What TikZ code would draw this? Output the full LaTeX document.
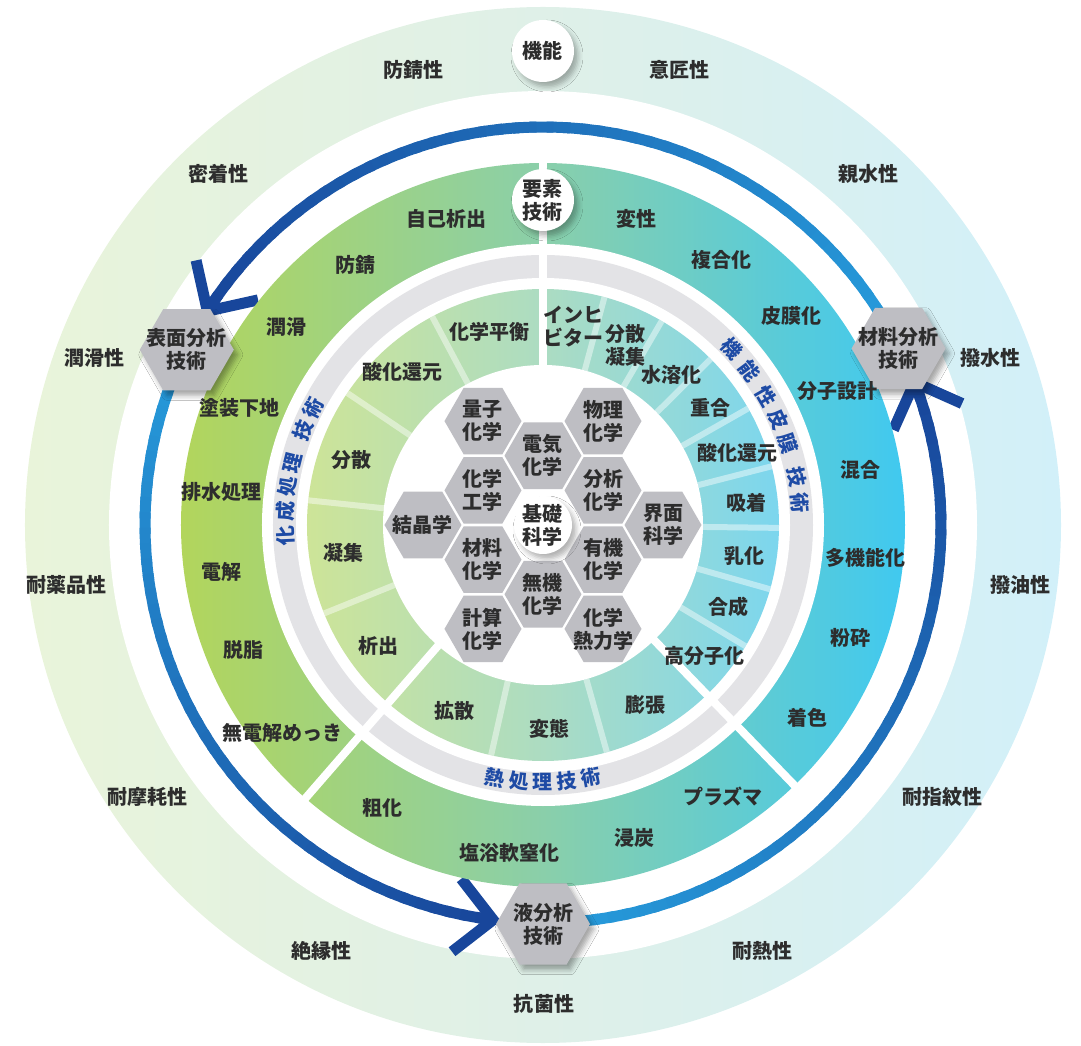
\documentclass[tikz,border=0pt]{standalone}
\usepackage{fontspec}
\setmainfont{Noto Sans CJK JP}
\usetikzlibrary{shapes.geometric,shadows,shadows.blur,calc}
\definecolor{txt}{RGB}{45,45,45}
\definecolor{paleL}{RGB}{233,244,218}
\definecolor{paleM}{RGB}{223,240,232}
\definecolor{paleR}{RGB}{210,240,249}
\definecolor{outL}{RGB}{178,213,92}
\definecolor{outM}{RGB}{138,207,170}
\definecolor{outR}{RGB}{64,201,240}
\definecolor{inL}{RGB}{205,228,152}
\definecolor{inM}{RGB}{172,220,194}
\definecolor{inR}{RGB}{124,214,238}
\definecolor{grayband}{RGB}{227,227,230}
\definecolor{hexgray}{RGB}{190,190,195}
\definecolor{bdark}{RGB}{24,70,155}
\definecolor{blight}{RGB}{38,154,218}
\definecolor{lblue}{RGB}{30,75,165}
\newcommand\gradarc[2]{%
  \foreach \i in {0,...,47}{%
    \pgfmathsetmacro\arcA{#1+(#2-#1)*\i/48}%
    \pgfmathsetmacro\arcB{min(#2,#1+(#2-#1)*(\i+1.4)/48)}%
    \pgfmathsetmacro\arcP{100*\i/47}%
    \draw[line width=11pt, color=bdark!\arcP!blight] (\arcA:398) arc[start angle=\arcA, end angle=\arcB, radius=398pt];
  }}
\begin{document}
\begin{tikzpicture}[x=1pt,y=1pt,
  font=\fontsize{20}{23}\selectfont\bfseries,
  lbl/.style={text=txt, align=center, inner sep=0pt},
  hexc/.style={regular polygon, regular polygon sides=6, minimum size=77pt, inner sep=0pt, fill=hexgray},
  hexa/.style={regular polygon, regular polygon sides=6, minimum size=94pt, inner sep=0pt, fill=hexgray,
    blur shadow={shadow xshift=4pt, shadow yshift=-5pt, shadow blur radius=5pt, shadow opacity=35}},
  wcirc/.style={circle, fill=white, minimum size=62pt, inner sep=0pt, text=txt, align=center,
    blur shadow={shadow xshift=4pt, shadow yshift=-5pt, shadow blur radius=5pt, shadow opacity=30}},
  gtxt/.style={text=lblue, inner sep=0pt, font=\fontsize{20}{22}\selectfont\bfseries},
  sepline/.style={white, line width=8pt},
  lsep/.style={white, opacity=0.45, line width=6pt},
  chev/.style={line width=11pt, bdark, line join=miter, line cap=butt}
]
\path[use as bounding box] (-543,-521) rectangle (538,525);
% pale outer ring
\shade[left color=paleL, right color=paleR, middle color=paleM] (0,0) circle[radius=518pt];
\fill[white] (0,0) circle[radius=434pt];
% blue arcs
\gradarc{30}{147}
\gradarc{156}{262.5}
\gradarc{275}{380.5}
\coordinate (tip1) at (147.5:398);
\coordinate (tip2) at (262.8:398);
\coordinate (tip3) at (21:398);
\draw[chev] ($(tip1)+(102.5:52)$) -- (tip1) -- ($(tip1)+(12.5:52)$);
\draw[chev] ($(tip2)+(217.8:52)$) -- (tip2) -- ($(tip2)+(127.8:52)$);
\draw[chev] ($(tip3)+(-24:52)$) -- (tip3) -- ($(tip3)+(-114:52)$);
% outer coloured band
\shade[left color=outL, right color=outR, middle color=outM] (0,0) circle[radius=362pt];
\fill[white] (0,0) circle[radius=281pt];
% gray band
\fill[grayband] (0,0) circle[radius=270pt];
\fill[white] (0,0) circle[radius=247pt];
% inner band
\shade[left color=inL, right color=inR, middle color=inM] (0,0) circle[radius=236pt];
\fill[white] (0,0) circle[radius=160pt];
% light separators in inner band
\foreach \a in {118,146,174,202,74.9,59.8,44.7,29.6,14.4,-0.7,-15.8,-30.9,257.3,285.7}
  \draw[lsep] (\a:160) -- (\a:236);
% main separators
\draw[sepline] (90:158) -- (90:364);
\draw[sepline] (229:158) -- (229:364);
\draw[sepline] (-46:158) -- (-46:364);
% gray band labels
\foreach \c/\a [count=\k] in {化/182.5,成/177,処/171.5,理/166,技/158.5,術/153}
  \node[gtxt, rotate=\a-90] (gl\k) at (\a:258) {\c};
\foreach \c/\a [count=\k] in {機/43,能/36.6,性/30,皮/24.2,膜/18.4,技/10.8,術/5}
  \node[gtxt, rotate=\a-90] (gr\k) at (\a:258) {\c};
\foreach \c/\a [count=\k] in {熱/259.2,処/264.6,理/270,技/275.4,術/280.8}
  \node[gtxt, rotate=\a+90] (gb\k) at (\a:257) {\c};
% central hexagons
\foreach \n/\x/\y/\t in {q/-60/103.9/{量子\\化学}, e/0/69.3/{電気\\化学}, b/60/103.9/{物理\\化学},
   k/-60/34.6/{化学\\工学}, a/60/34.6/{分析\\化学}, c/-120/0/{結晶学}, s/120/0/{界面\\科学},
   m/-60/-34.6/{材料\\化学}, o/60/-34.6/{有機\\化学}, i/0/-69.3/{無機\\化学},
   t/-60/-103.9/{計算\\化学}, h/60/-103.9/{化学\\熱力学}}{
  \node[hexc] (hex\n) at (\x,\y) {};
  \node[lbl] (hext\n) at (hex\n) {\t};
}
\node[wcirc, minimum size=58pt] (kiso) at (0,0) {基礎\\科学};
% analysis hexagons
\node[hexa] (hyomen) at (153.8:397) {};
\node[lbl] (hyomenT) at (hyomen) {表面分析\\技術};
\node[hexa] (zairyo) at (26.4:397) {};
\node[lbl] (zairyoT) at (zairyo) {材料分析\\技術};
\node[hexa] (eki) at (270:399) {};
\node[lbl] (ekiT) at (eki) {液分析\\技術};
% white circles
\node[wcirc] (kino) at (0,474) {機能};
\node[wcirc] (yoso) at (0,325) {要素\\技術};
% pale ring labels
\node[lbl] (p1) at (-129,455) {防錆性};
\node[lbl] (p2) at (136,455) {意匠性};
\node[lbl] (p3) at (-324,351) {密着性};
\node[lbl] (p4) at (325,351) {親水性};
\node[lbl] (p5) at (-448,167) {潤滑性};
\node[lbl] (p6) at (447,167) {撥水性};
\node[lbl] (p7) at (-476,-60) {耐薬品性};
\node[lbl] (p8) at (477,-60) {撥油性};
\node[lbl] (p9) at (-395,-272) {耐摩耗性};
\node[lbl] (p10) at (399,-272) {耐指紋性};
\node[lbl] (p11) at (-221,-426) {絶縁性};
\node[lbl] (p12) at (219,-426) {耐熱性};
\node[lbl] (p13) at (1,-479) {抗菌性};
% outer band labels
\node[lbl] (o1) at (-96,306) {自己析出};
\node[lbl] (o2) at (-187,260) {防錆};
\node[lbl] (o3) at (-256,198) {潤滑};
\node[lbl] (o4) at (-303,117) {塗装下地};
\node[lbl] (o5) at (-321,33) {排水処理};
\node[lbl] (o6) at (-321,-47) {電解};
\node[lbl] (o7) at (-299,-125) {脱脂};
\node[lbl] (o8) at (-260,-208) {無電解めっき};
\node[lbl] (o9) at (93,306) {変性};
\node[lbl] (o10) at (178,265) {複合化};
\node[lbl] (o11) at (248,209) {皮膜化};
\node[lbl] (o12) at (294,134) {分子設計};
\node[lbl] (o13) at (317,55) {混合};
\node[lbl] (o14) at (322,-33) {多機能化};
\node[lbl] (o15) at (307,-113) {粉砕};
\node[lbl] (o16) at (264,-193) {着色};
\node[lbl] (o17) at (-160,-283) {粗化};
\node[lbl] (o18) at (-33,-328) {塩浴軟窒化};
\node[lbl] (o19) at (91,-313) {浸炭};
\node[lbl] (o20) at (180,-272) {プラズマ};
% inner band labels
\node[lbl] (i1) at (-53,193) {化学平衡};
\node[lbl] (i2) at (-140,153) {酸化還元};
\node[lbl] (i3) at (-191,65) {分散};
\node[lbl] (i4) at (-199,-28) {凝集};
\node[lbl] (i5) at (-164,-121) {析出};
\node[lbl] (i6) at (30,198) {インヒ\\ビター};
\node[lbl] (i7) at (82,180) {分散\\凝集};
\node[lbl] (i8) at (128,150) {水溶化};
\node[lbl] (i9) at (167,117) {重合};
\node[lbl] (i10) at (194,72) {酸化還元};
\node[lbl] (i11) at (203,22) {吸着};
\node[lbl] (i12) at (201,-31) {乳化};
\node[lbl] (i13) at (185,-82) {合成};
\node[lbl] (i14) at (161,-131) {高分子化};
\node[lbl] (i15) at (-88,-186) {拡散};
\node[lbl] (i16) at (6,-204) {変態};
\node[lbl] (i17) at (102,-180) {膨張};
\end{tikzpicture}
\end{document}
